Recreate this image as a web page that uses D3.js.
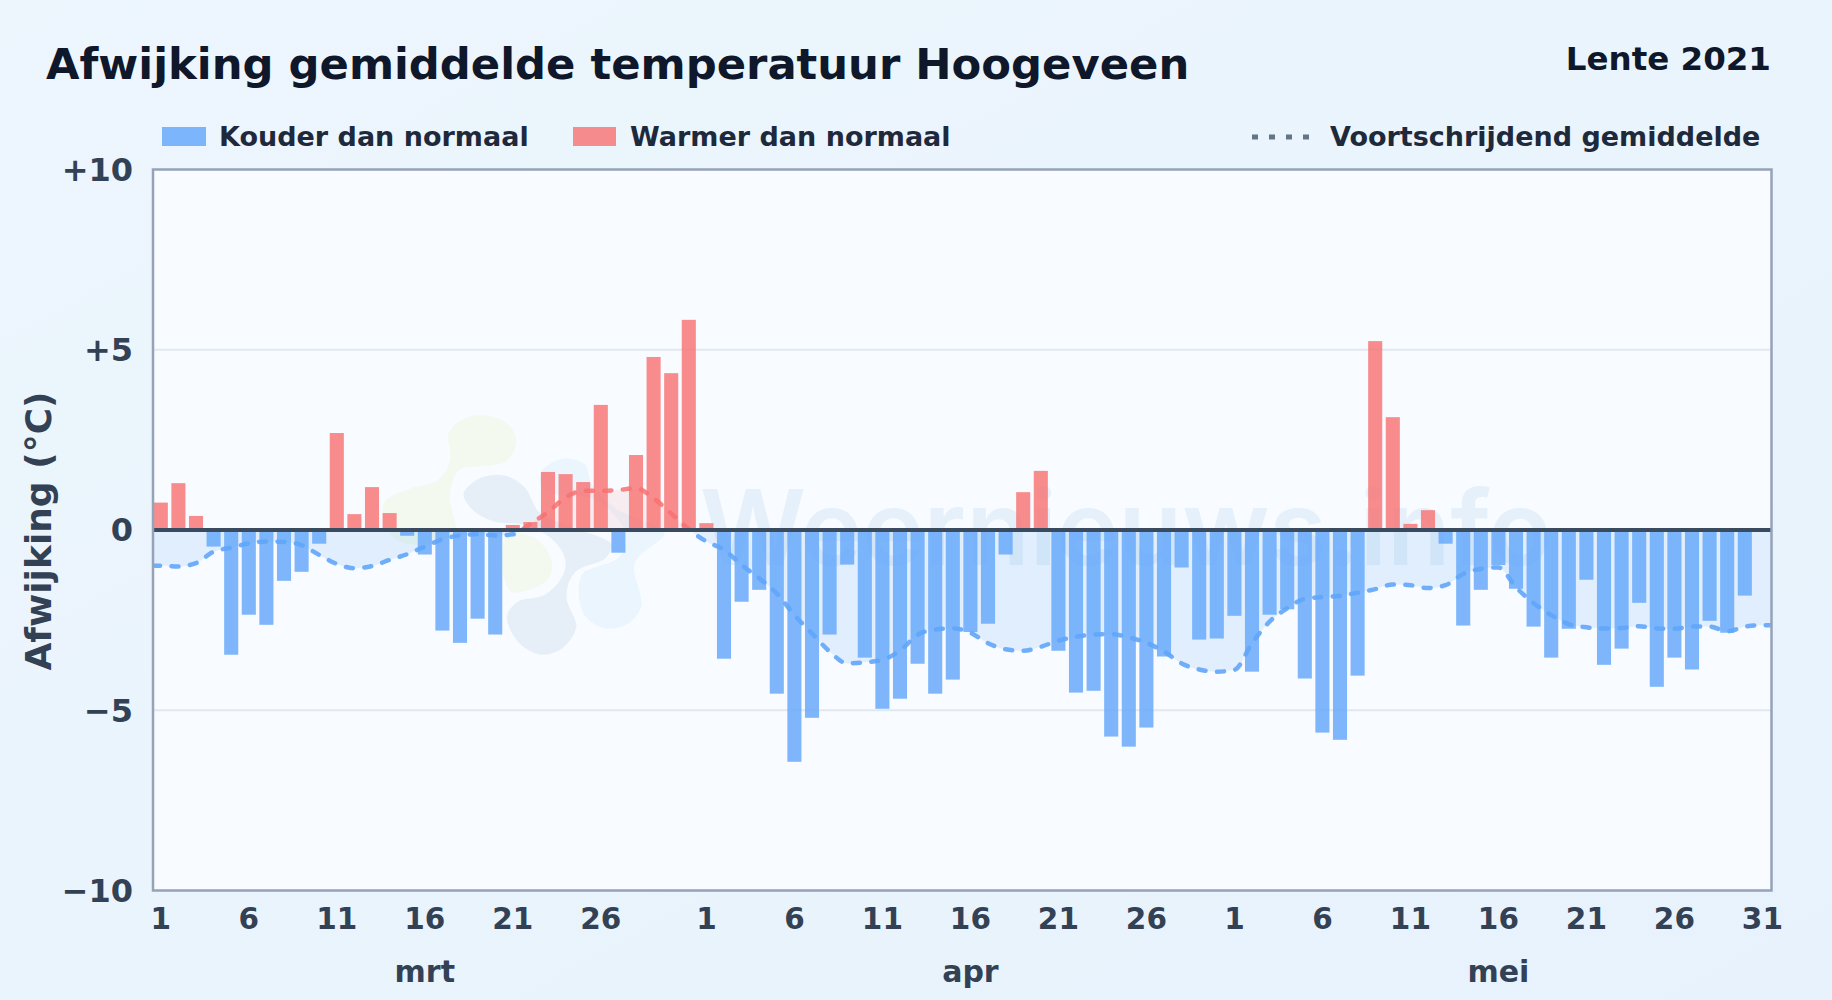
<!DOCTYPE html>
<html>
<head>
<meta charset="utf-8">
<script src="https://cdn.jsdelivr.net/npm/d3@7"></script>
<style>
html,body{margin:0;padding:0;background:#e8f3fc;}
svg{display:block;}
text{font-family:"DejaVu Sans",sans-serif;font-weight:bold;}
</style>
</head>
<body>
<script>
var canvaswidth=1832;
var canvasheight=1000;

var titel="Afwijking gemiddelde temperatuur Hoogeveen";
var seizoen="Lente 2021";
var yLabel="Afwijking (°C)";
var legendaLabels=["Kouder dan normaal","Warmer dan normaal","Voortschrijdend gemiddelde"];
var maanden=["mrt","apr","mei"];
var maandLengte=[31,30,31];
var yTicks=[10,5,0,-5,-10];
var yTickLabels=["+10","+5","0","−5","−10"];

// daily deviation, last day of may has no bar
var afwijking=[
0.76,1.30,0.39,-0.46,-3.46,-2.35,-2.63,-1.41,-1.16,-0.38,2.69,0.44,1.19,0.47,-0.16,-0.68,-2.79,-3.13,-2.46,-2.90,0.14,0.22,1.61,1.55,1.33,3.47,-0.63,2.08,4.80,4.35,5.83,
0.19,-3.57,-1.99,-1.66,-4.54,-6.43,-5.21,-2.90,-0.96,-3.54,-4.96,-4.68,-3.71,-4.54,-4.15,-2.83,-2.60,-0.68,1.05,1.64,-3.35,-4.51,-4.46,-5.73,-6.01,-5.48,-3.51,-1.04,-3.04,-3.01,
-2.38,-3.93,-2.35,-2.20,-4.12,-5.62,-5.82,-4.04,5.24,3.13,0.17,0.55,-0.38,-2.65,-1.66,-0.97,-1.63,-2.68,-3.54,-2.74,-1.38,-3.74,-3.29,-2.02,-4.35,-3.54,-3.87,-2.52,-2.85,-1.82,null
];
var gemiddelde=[
-0.99,-1.01,-0.92,-0.60,-0.49,-0.37,-0.32,-0.33,-0.42,-0.69,-0.94,-1.06,-1.00,-0.83,-0.67,-0.46,-0.26,-0.15,-0.12,-0.15,-0.12,0.17,0.50,0.90,1.09,1.09,1.11,1.16,0.88,0.46,0.02,
-0.32,-0.55,-0.97,-1.34,-1.76,-2.36,-2.87,-3.37,-3.70,-3.67,-3.60,-3.35,-2.91,-2.76,-2.73,-2.85,-3.14,-3.31,-3.35,-3.24,-3.07,-2.96,-2.90,-2.89,-2.98,-3.13,-3.37,-3.70,-3.87,-3.93,
-3.88,-3.14,-2.54,-2.17,-1.91,-1.86,-1.83,-1.74,-1.64,-1.51,-1.53,-1.61,-1.53,-1.22,-1.08,-1.04,-1.59,-2.03,-2.36,-2.61,-2.70,-2.73,-2.72,-2.67,-2.73,-2.74,-2.68,-2.68,-2.81,-2.68,-2.64
];

// day of month + month for every category
var dagen=[];
maandLengte.forEach(function(n,m){
	d3.range(1,n+1).forEach(function(d){ dagen.push({dag:d,maand:m}); });
});

var svg=d3.select("body").append("svg").attr("width",canvaswidth).attr("height",canvasheight);
var defs=svg.append("defs");

var bg=defs.append("linearGradient").attr("id","achtergrond").attr("x1",0).attr("y1",0).attr("x2",1).attr("y2",1);
bg.append("stop").attr("offset","0%").attr("stop-color","#edf6fd");
bg.append("stop").attr("offset","100%").attr("stop-color","#e7f2fc");
svg.append("rect").attr("width",canvaswidth).attr("height",canvasheight).attr("fill","url(#achtergrond)");

var plotL=153, plotR=1771.5, plotT=169.5, plotB=890.5;

var x=d3.scaleBand().domain(d3.range(dagen.length)).range([152,1771.2]).paddingInner(0.2).paddingOuter(0.1);
var y=d3.scaleLinear().domain([-10,10]).range([plotB,plotT]);
var xc=function(i){ return x(i)+x.bandwidth()/2; };

svg.append("rect").attr("x",plotL).attr("y",plotT).attr("width",plotR-plotL).attr("height",plotB-plotT).attr("fill","#f8fbff");

// watermark
var wm=svg.append("g").attr("id","watermerk");
var blob=d3.line().curve(d3.curveCatmullRomClosed.alpha(0.5)).x(function(p){return 350+p[0]/3;}).y(function(p){return 400+p[1]/3;});
var blobs=[
	{fill:"#f3f9ee",pts:[[400,40],[480,70],[505,130],[470,190],[400,205],[330,215],[305,290],[320,400],[200,440],[130,420],[95,360],[100,300],[180,260],[260,235],[295,180],[290,100],[330,55]]},
	{fill:"#f3f9ee",pts:[[470,400],[560,410],[610,480],[600,540],[540,575],[480,580],[450,500]]},
	{fill:"#eaf5fd",pts:[[570,210],[640,170],[710,190],[730,250],[800,320],[950,400],[860,490],[880,620],[830,680],[760,690],[700,650],[680,570],[700,510],[800,470],[820,400],[780,340],[720,300],[620,290],[570,260]]},
	{fill:"#e6eff8",pts:[[335,280],[390,228],[470,222],[530,260],[570,330],[650,370],[790,430],[770,480],[680,520],[655,590],[685,680],[640,750],[570,770],[500,730],[465,650],[500,600],[580,580],[630,530],[640,480],[600,420],[520,380],[430,370],[360,330]]}
];
blobs.forEach(function(b){ wm.append("path").attr("d",blob(b.pts)).attr("fill",b.fill).attr("stroke","#f8fbff").attr("stroke-width",4); });
wm.append("text").text("Weernieuws.info").attr("x",700).attr("y",565).attr("font-size",104).attr("fill","#e6f0fa")
	.style("font-family","Inter").style("font-weight",600);

// grid
svg.append("g").selectAll("line").data(yTicks.filter(function(t){return t!==0&&Math.abs(t)<10;})).enter().append("line")
	.attr("x1",plotL).attr("x2",plotR).attr("y1",function(d){return y(d);}).attr("y2",function(d){return y(d);})
	.attr("stroke","#e2e8f0").attr("stroke-width",2);

// area + line are split at zero with two clips
defs.append("clipPath").attr("id","clipBoven").append("rect").attr("x",plotL).attr("y",plotT).attr("width",plotR-plotL).attr("height",y(0)-plotT);
defs.append("clipPath").attr("id","clipOnder").append("rect").attr("x",plotL).attr("y",y(0)).attr("width",plotR-plotL).attr("height",plotB-y(0));

var lijnPunten=gemiddelde.map(function(v,i){ return [xc(i),v]; });
lijnPunten.unshift([plotL,gemiddelde[0]]);
lijnPunten.push([plotR,gemiddelde[gemiddelde.length-1]]);

var area=d3.area().curve(d3.curveMonotoneX).x(function(p){return p[0];}).y0(y(0)).y1(function(p){return y(p[1]);});
var lijn=d3.line().curve(d3.curveMonotoneX).x(function(p){return p[0];}).y(function(p){return y(p[1]);});

svg.append("path").attr("d",area(lijnPunten)).attr("fill","#60a5fa").attr("fill-opacity",0.15).attr("clip-path","url(#clipOnder)");
svg.append("path").attr("d",area(lijnPunten)).attr("fill","#f87171").attr("fill-opacity",0.1).attr("clip-path","url(#clipBoven)");

// bars
svg.append("g").selectAll("rect").data(afwijking.map(function(v,i){return {v:v,i:i};}).filter(function(d){return d.v!==null;})).enter().append("rect")
	.attr("x",function(d){return x(d.i);})
	.attr("width",x.bandwidth())
	.attr("y",function(d){return d.v>=0?y(d.v):y(0);})
	.attr("height",function(d){return Math.abs(y(d.v)-y(0));})
	.attr("fill",function(d){return d.v>=0?"#f87171":"#60a5fa";})
	.attr("fill-opacity",0.8);

svg.append("path").attr("d",lijn(lijnPunten)).attr("fill","none").attr("stroke","#60a5fa").attr("stroke-width",4.5).attr("stroke-opacity",0.9)
	.attr("stroke-dasharray","7 11.5").attr("stroke-linecap","round").attr("clip-path","url(#clipOnder)");
svg.append("path").attr("d",lijn(lijnPunten)).attr("fill","none").attr("stroke","#f87171").attr("stroke-width",4.5).attr("stroke-opacity",0.85)
	.attr("stroke-dasharray","7 11.5").attr("stroke-linecap","round").attr("clip-path","url(#clipBoven)");

// zero line + frame
svg.append("line").attr("x1",plotL).attr("x2",plotR).attr("y1",y(0)).attr("y2",y(0)).attr("stroke","#3a4a5f").attr("stroke-width",4);
svg.append("rect").attr("x",plotL).attr("y",plotT).attr("width",plotR-plotL).attr("height",plotB-plotT)
	.attr("fill","none").attr("stroke","#94a3b8").attr("stroke-width",2.5);

// axes
var yAxis=d3.axisLeft(y).tickValues(yTicks).tickSize(0).tickPadding(20).tickFormat(function(d,i){return yTickLabels[i];});
var yg=svg.append("g").attr("transform","translate("+plotL+",0.5)").call(yAxis);
yg.select(".domain").remove();
yg.selectAll("text").attr("font-size",32).attr("fill","#334155").style("font-family","'DejaVu Sans'").style("font-weight","bold");

var xTickIdx=d3.range(dagen.length).filter(function(i){
	return (dagen[i].dag-1)%5===0 && dagen[i].dag<=31 && !(dagen[i].dag===31&&dagen[i].maand===0);
});
var xAxis=d3.axisBottom(x).tickValues(xTickIdx).tickSize(0).tickPadding(18).tickFormat(function(i){return dagen[i].dag;});
var xg=svg.append("g").attr("transform","translate(0,"+plotB+")").call(xAxis);
xg.select(".domain").remove();
xg.selectAll("text").attr("font-size",29.5).attr("fill","#334155").style("font-family","'DejaVu Sans'").style("font-weight","bold");

// month labels sit on the 16th
maanden.forEach(function(m,k){
	var idx=d3.sum(maandLengte.slice(0,k))+15;
	svg.append("text").text(m).attr("x",xc(idx)).attr("y",982).attr("text-anchor","middle").attr("font-size",30).attr("fill","#334155");
});

svg.append("text").text(yLabel).attr("transform","translate(51,531) rotate(-90)").attr("text-anchor","middle").attr("font-size",36).attr("fill","#334155");

// title
svg.append("text").text(titel).attr("x",46).attr("y",79).attr("font-size",43.3).attr("fill","#0f172a");
svg.append("text").text(seizoen).attr("x",1771).attr("y",70).attr("text-anchor","end").attr("font-size",32.5).attr("fill","#0f172a");

// legend
var leg=svg.append("g");
leg.append("rect").attr("x",162).attr("y",127).attr("width",44).attr("height",19).attr("fill","#60a5fa").attr("fill-opacity",0.8);
leg.append("text").text(legendaLabels[0]).attr("x",219).attr("y",146).attr("font-size",27).attr("fill","#1e293b");
leg.append("rect").attr("x",573).attr("y",127).attr("width",43).attr("height",19).attr("fill","#f87171").attr("fill-opacity",0.8);
leg.append("text").text(legendaLabels[1]).attr("x",630).attr("y",146).attr("font-size",27).attr("fill","#1e293b");
leg.append("line").attr("x1",1252).attr("x2",1310).attr("y1",137).attr("y2",137).attr("stroke","#64748b").attr("stroke-width",5).attr("stroke-dasharray","6 11");
leg.append("text").text(legendaLabels[2]).attr("x",1330).attr("y",146).attr("font-size",27).attr("fill","#1e293b");
</script>
</body>
</html>
